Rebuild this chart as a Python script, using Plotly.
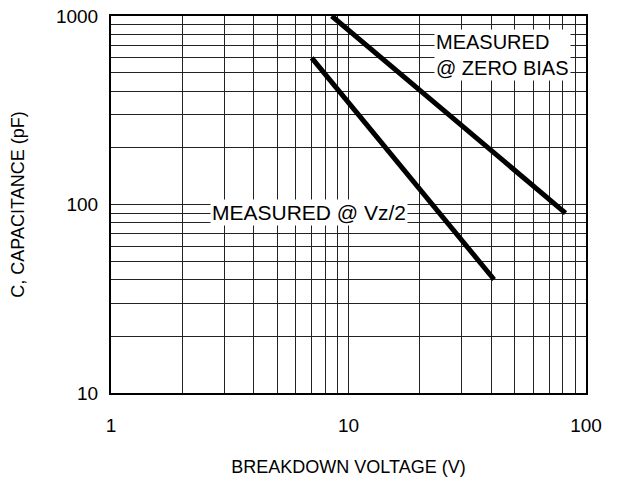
import math
import plotly.graph_objects as go

# Capacitance vs breakdown voltage (log-log)
zero_bias_v = [8.5, 82]
zero_bias_pf = [1000, 90]
half_vz_v = [7.0, 41]
half_vz_pf = [600, 40]

x_ticks = [1, 10, 100]
y_ticks = [10, 100, 1000]

FONT = "Liberation Sans, Arial, sans-serif"
GRID = "#222222"

fig = go.Figure()
fig.add_trace(go.Scatter(x=zero_bias_v, y=zero_bias_pf, mode="lines",
                         line=dict(color="black", width=5), showlegend=False))
fig.add_trace(go.Scatter(x=half_vz_v, y=half_vz_pf, mode="lines",
                         line=dict(color="black", width=5), showlegend=False))

fig.add_annotation(x=math.log10(44.5), y=math.log10(620), text="MEASURED<br>@ ZERO BIAS",
                   showarrow=False, align="left", bgcolor="white",
                   font=dict(size=20, color="black", family=FONT), borderpad=1)
fig.add_annotation(x=math.log10(6.85), y=math.log10(91), text="MEASURED @ Vz/2",
                   showarrow=False, bgcolor="white",
                   font=dict(size=21, color="black", family=FONT), borderpad=1)

# page body adds an 8px offset, so the figure is sized to fit inside the window
fig.update_layout(
    width=612, height=471,
    paper_bgcolor="white", plot_bgcolor="white",
    margin=dict(l=103, r=34, t=8, b=86),
    font=dict(family=FONT, color="black"),
)
fig.update_xaxes(
    type="log", range=[0, 2], tickvals=x_ticks, ticktext=[str(v) for v in x_ticks],
    showgrid=True, gridcolor=GRID, gridwidth=1,
    minor=dict(dtick="D1", showgrid=True, gridcolor=GRID, gridwidth=1),
    showline=True, linecolor="black", linewidth=2, mirror=True,
    ticks="", ticklabelstandoff=14, tickfont=dict(size=19), ticklabeloverflow="allow",
    title=dict(text="BREAKDOWN VOLTAGE (V)", font=dict(size=18), standoff=26),
    zeroline=False, automargin=False,
)
fig.update_yaxes(
    type="log", range=[1, 3], tickvals=y_ticks, ticktext=[str(v) for v in y_ticks],
    showgrid=True, gridcolor=GRID, gridwidth=1,
    minor=dict(dtick="D1", showgrid=True, gridcolor=GRID, gridwidth=1),
    showline=True, linecolor="black", linewidth=2, mirror=True,
    ticks="", ticklabelstandoff=7, tickfont=dict(size=19), ticklabeloverflow="allow",
    title=dict(text="C, CAPACITANCE (pF)", font=dict(size=18), standoff=27),
    zeroline=False, automargin=False,
)

fig.write_html("out.html")
